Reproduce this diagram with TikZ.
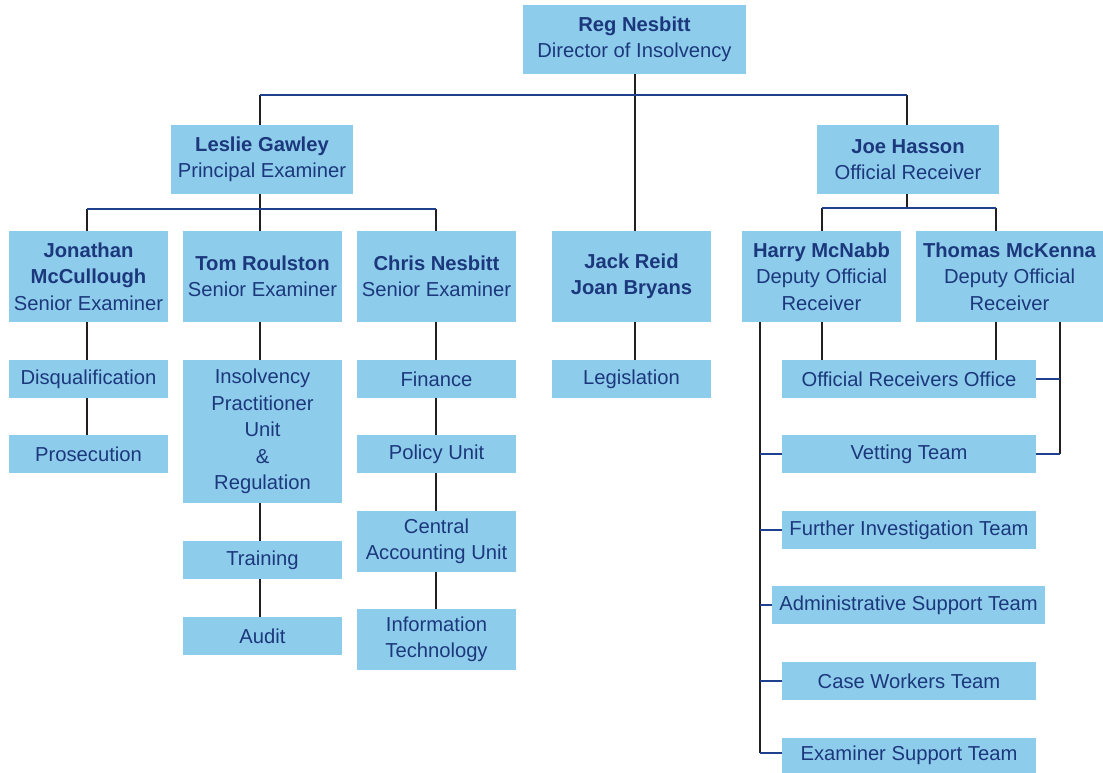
\documentclass[tikz,border=0pt]{standalone}
\usepackage{fontspec}
\setmainfont{Liberation Sans}
\definecolor{boxfill}{RGB}{142,204,236}
\definecolor{navytext}{RGB}{28,56,124}
\definecolor{navyline}{RGB}{31,63,143}
\definecolor{darkline}{RGB}{35,31,32}
\tikzset{
  orgbox/.style={fill=boxfill, draw=none, inner sep=0pt, align=center,
    text=navytext, font=\fontsize{20.2}{26.5}\selectfont},
  hl/.style={draw=navyline, line width=2.3pt},
  vl/.style={draw=darkline, line width=2.3pt},
}
\newcommand\bx[6]{\node[orgbox, minimum width={#4-#2}, minimum height={#5-#3}] (#1) at ({(#2+#4)/2},{(#3+#5)/2}) {#6};}
\begin{document}
\begin{tikzpicture}[x=1pt,y=-1pt]
\useasboundingbox[fill=white] (0,0) rectangle (1103,773);
% boxes
\bx{reg}{523}{5}{746}{74}{\textbf{Reg Nesbitt}\\Director of Insolvency}
\bx{lg}{171}{125}{353}{194}{\textbf{Leslie Gawley}\\Principal Examiner}
\bx{joe}{817}{125}{999}{194}{\textbf{Joe Hasson}\\Official Receiver}
\bx{jon}{9}{231}{168}{322}{\textbf{Jonathan}\\\textbf{McCullough}\\Senior Examiner}
\bx{tom}{183}{231}{342}{322}{\textbf{Tom Roulston}\\Senior Examiner}
\bx{chris}{357}{231}{516}{322}{\textbf{Chris Nesbitt}\\Senior Examiner}
\bx{jack}{552}{231}{711}{322}{\textbf{Jack Reid}\\\textbf{Joan Bryans}}
\bx{harry}{742}{231}{901}{322}{\textbf{Harry McNabb}\\Deputy Official\\Receiver}
\bx{thomas}{916}{231}{1103}{322}{\textbf{Thomas McKenna}\\Deputy Official\\Receiver}
\bx{disq}{9}{360}{168}{398}{Disqualification}
\bx{pros}{9}{435}{168}{473}{Prosecution}
\bx{ipu}{183}{360}{342}{503}{Insolvency\\Practitioner\\Unit\\\&\\Regulation}
\bx{train}{183}{541}{342}{579}{Training}
\bx{audit}{183}{617}{342}{655}{Audit}
\bx{fin}{357}{360}{516}{398}{Finance}
\bx{pol}{357}{435}{516}{473}{Policy Unit}
\bx{cau}{357}{511}{516}{572}{Central\\Accounting Unit}
\bx{it}{357}{609}{516}{670}{Information\\Technology}
\bx{leg}{552}{360}{711}{398}{Legislation}
\bx{oro}{782}{360}{1036}{398}{Official Receivers Office}
\bx{vet}{782}{435}{1036}{473}{Vetting Team}
\bx{fit}{782}{511}{1036}{549}{Further Investigation Team}
\bx{ast}{772}{586}{1045}{624}{Administrative Support Team}
\bx{cwt}{782}{662}{1036}{700}{Case Workers Team}
\bx{est}{782}{738}{1036}{773}{Examiner Support Team}
% junction coordinates
\coordinate (bL) at (260,95);
\coordinate (bM) at (635,95);
\coordinate (bR) at (907,95);
\coordinate (cL) at (87,209);
\coordinate (cM) at (260,209);
\coordinate (cR) at (436,209);
\coordinate (dL) at (822,208);
\coordinate (dM) at (907,208);
\coordinate (dR) at (996,208);
\coordinate (sL) at (760,0);
\coordinate (sR) at (1060,0);
% top level
\draw[vl] (bM |- reg.south) -- (bM |- jack.north);
\draw[vl] (bM |- jack.south) -- (bM |- leg.north);
\draw[vl] (bL) -- (bL |- lg.north);
\draw[vl] (bR) -- (bR |- joe.north);
\draw[hl] (bL) -- (bR);
% Leslie branch
\draw[vl] (cM |- lg.south) -- (cM |- tom.north);
\draw[vl] (cL) -- (cL |- jon.north);
\draw[vl] (cR) -- (cR |- chris.north);
\draw[hl] (cL) -- (cR);
\draw[vl] (cL |- jon.south) -- (cL |- disq.north);
\draw[vl] (cL |- disq.south) -- (cL |- pros.north);
\draw[vl] (cM |- tom.south) -- (cM |- ipu.north);
\draw[vl] (cM |- ipu.south) -- (cM |- train.north);
\draw[vl] (cM |- train.south) -- (cM |- audit.north);
\draw[vl] (cR |- chris.south) -- (cR |- fin.north);
\draw[vl] (cR |- fin.south) -- (cR |- pol.north);
\draw[vl] (cR |- pol.south) -- (cR |- cau.north);
\draw[vl] (cR |- cau.south) -- (cR |- it.north);
% Joe branch
\draw[vl] (dM |- joe.south) -- (dM);
\draw[vl] (dL) -- (dL |- harry.north);
\draw[vl] (dR) -- (dR |- thomas.north);
\draw[hl] (dL) -- (dR);
\draw[vl] (dL |- harry.south) -- (dL |- oro.north);
\draw[vl] (dR |- thomas.south) -- (dR |- oro.north);
\draw[vl] (sL |- harry.south) -- ([yshift=2.5pt]sL |- est.west);
\draw[hl] (sL |- vet.west) -- (vet.west);
\draw[hl] (sL |- fit.west) -- (fit.west);
\draw[hl] (sL |- ast.west) -- (ast.west);
\draw[hl] (sL |- cwt.west) -- (cwt.west);
\draw[hl] ([yshift=2.5pt]sL |- est.west) -- ([yshift=2.5pt]est.west);
\draw[vl] (sR |- thomas.south) -- (sR |- vet.east);
\draw[hl] (oro.east) -- (sR |- oro.east);
\draw[hl] (vet.east) -- (sR |- vet.east);
\end{tikzpicture}
\end{document}
